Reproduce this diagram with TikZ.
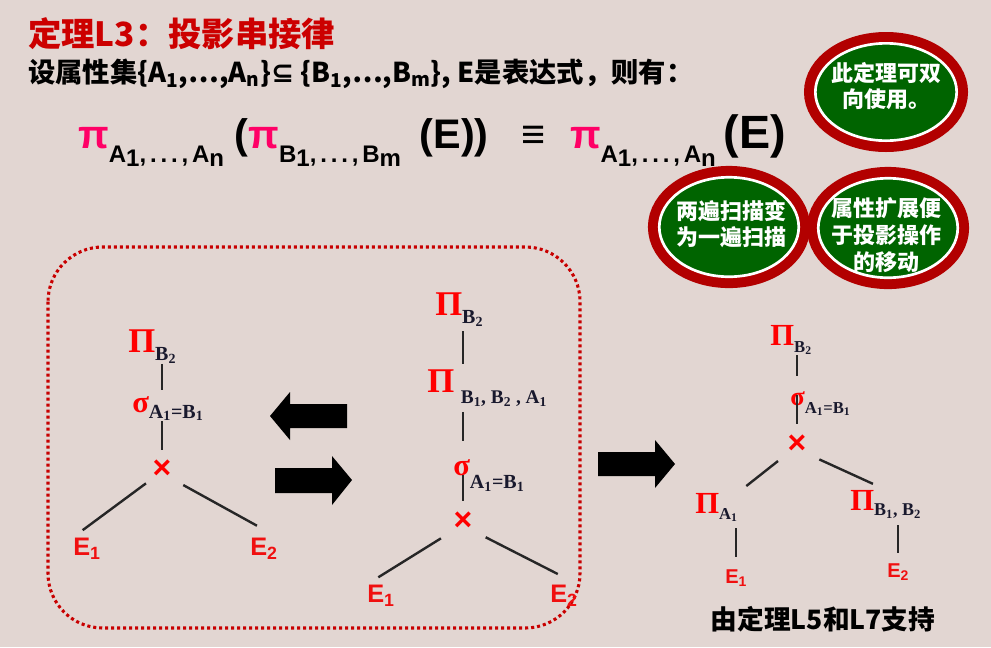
\documentclass[tikz,border=0pt]{standalone}
\usepackage{fontspec}
\setmainfont{Liberation Sans}
\newfontfamily\cjk{Noto Sans CJK SC}
\newfontfamily\serif{Liberation Serif}
\newfontfamily\sym{DejaVu Sans}

\definecolor{bgpaper}{RGB}{226,214,210}
\definecolor{titlered}{RGB}{204,0,0}
\definecolor{pipink}{RGB}{255,0,102}
\definecolor{opred}{RGB}{255,0,0}
\definecolor{ered}{RGB}{240,16,16}
\definecolor{subink}{RGB}{25,25,45}
\definecolor{ringred}{RGB}{178,0,0}
\definecolor{bubblegreen}{RGB}{0,100,0}
\definecolor{boxred}{RGB}{200,0,0}

% pieces of the law
\newcommand{\pisym}{{\color{pipink}\fontsize{30}{30}\selectfont π}}
\newcommand{\lawsub}[1]{\lower11pt\hbox{\fontsize{18}{18}\selectfont\addfontfeature{LetterSpace=16}#1}}
\newcommand{\dn}[1]{\lower3pt\hbox{#1}}
% pieces of the trees
\newcommand{\bigPi}[1][26]{{\color{opred}\serif\bfseries\fontsize{#1}{#1}\selectfont Π}}
\newcommand{\bigSigma}[1][23]{{\color{opred}\serif\bfseries\fontsize{#1}{#1}\selectfont σ}}
\newcommand{\opsub}[3]{\lower#1\hbox{\serif\bfseries\color{subink}\fontsize{#2}{#2}\selectfont #3}}

\begin{document}
\begin{tikzpicture}[x=0.75pt, y=-0.75pt,
  op/.style={anchor=base west, inner sep=0pt},
  prodop/.style={text=opred, inner sep=0pt, font=\bfseries\fontsize{24}{24}\selectfont},
  leaf/.style={anchor=base west, inner sep=0pt, text=ered, font=\bfseries\fontsize{19}{19}\selectfont},
  smallleaf/.style={leaf, font=\bfseries\fontsize{15}{15}\selectfont},
  branch/.style={line width=1.8pt, black!85},
  bubble/.style={preaction={draw=ringred, line width=17pt}, fill=bubblegreen, draw=white, line width=2pt},
  bubbletext/.style={text=white, align=center, inner sep=0pt, font=\cjk\bfseries\fontsize{16.5}{20}\selectfont},
  boxline/.style={draw=boxred, line width=2.3pt, dash pattern=on 2.3pt off 2.2pt, rounded corners=41pt}]
  \useasboundingbox (0,0) rectangle (991,647);
  \fill[bgpaper] (0,0) rectangle (991,647);

  % heading
  \node[anchor=west, inner sep=0pt, text=titlered, font=\cjk\bfseries\fontsize{25}{25}\selectfont] (title) at (28,34) {定理L3：投影串接律};
  \node[anchor=west, inner sep=0pt, font=\cjk\bfseries\fontsize{20.5}{20.5}\selectfont] (premise) at (28,74)
    {设属性集\{A\textsubscript{1},…,A\textsubscript{n}\}{\sym ⊆} \{B\textsubscript{1},…,B\textsubscript{m}\}, E是表达式，则有：};
  \node[anchor=base west, inner sep=0pt, font=\bfseries\fontsize{31}{31}\selectfont] (law) at (78,148)
    {\pisym\lawsub{A\dn{1},...,A\dn{n}}\hspace{8pt}(\pisym\lawsub{B\dn{1},...,B\dn{m}}\hspace{14pt}(E))\hspace{25pt}≡\hspace{18pt}\pisym\lawsub{A\dn{1},...,A\dn{n}}\hspace{6pt}{\fontsize{35}{35}\selectfont(E)}};

  % remarks
  \path[bubble] (886,92) ellipse [x radius=53pt, y radius=36.5pt];
  \node[bubbletext] (twoway) at (886,86) {此定理可双\\向使用。};
  \path[bubble] (729,227) ellipse [x radius=52.3pt, y radius=37.3pt];
  \node[bubbletext] (onescan) at (731,224) {两遍扫描变\\为一遍扫描};
  \path[bubble] (888,228) ellipse [x radius=52.3pt, y radius=37.3pt];
  \node[bubbletext] (widen) at (886,235) {属性扩展便\\于投影操作\\的移动};

  % equivalent pair
  \draw[boxline] (48,247) rectangle (580,628);

  \node[op] (lproj) at (128,352) {\bigPi\opsub{6.5pt}{15}{B\textsubscript{2}}};
  \node[op] (lsel) at (132,412) {\bigSigma\opsub{4.5pt}{15}{A\textsubscript{1}=B\textsubscript{1}}};
  \node[prodop] (lprod) at (162,469) {×};
  \node[leaf] (lE1) at (73,555) {E\textsubscript{1}};
  \node[leaf] (lE2) at (250,555) {E\textsubscript{2}};
  \draw[branch, shorten >=4.5pt] (lproj.south -| lprod) -- (lsel.north -| lprod);
  \draw[branch, shorten >=7pt] (lsel.south -| lprod) -- (lprod.north);
  \draw[branch, shorten <=6pt, shorten >=9pt] (lprod.south west) -- (lE1.north west);
  \draw[branch, shorten <=10pt, shorten >=18pt] (lprod.south east) -- (lE2.north east);

  \fill (270,416) -- (290,392) -- (290,404) -- (347,404) -- (347,428) -- (290,428) -- (290,440) -- cycle;
  \fill (352,480) -- (332,456) -- (332,468) -- (275,468) -- (275,493) -- (332,493) -- (332,505) -- cycle;

  \node[op] (mproj) at (435,315) {\bigPi\opsub{6.5pt}{15}{B\textsubscript{2}}};
  \node[op] (mproj2) at (427,392) {\bigPi\hspace{5pt}\opsub{8.5pt}{14.5}{B\textsubscript{1}, B\textsubscript{2} , A\textsubscript{1}}};
  \node[op] (msel) at (453,475) {\bigSigma\opsub{10pt}{15}{A\textsubscript{1}=B\textsubscript{1}}};
  \node[prodop] (mprod) at (463,521) {×};
  \node[leaf] (mE1) at (367,602) {E\textsubscript{1}};
  \node[leaf] (mE2) at (550,602) {E\textsubscript{2}};
  \draw[branch, shorten <=3.5pt, shorten >=3.5pt] (mproj.south -| mprod) -- (mproj2.north -| mprod);
  \draw[branch, shorten <=4pt, shorten >=13pt] (mproj2.south -| mprod) -- (msel.north -| mprod);
  \draw[branch, shorten >=7.5pt] (msel.center -| mprod) -- (mprod.north);
  \draw[branch, shorten <=11pt, shorten >=10pt] (mprod.south west) -- (mE1.north west);
  \draw[branch, shorten <=11pt, shorten >=17pt] (mprod.south east) -- (mE2.north east);

  % pushed-down form
  \fill (675,464) -- (655,440) -- (655,452) -- (598,452) -- (598,476) -- (655,476) -- (655,488) -- cycle;

  \node[op] (rproj) at (770,345) {\bigPi[23]\opsub{5.5pt}{12.5}{B\textsubscript{2}}};
  \node[op] (rsel) at (790,405) {\bigSigma[20]\opsub{6pt}{12.5}{A\textsubscript{1}=B\textsubscript{1}}};
  \node[prodop] (rprod) at (797,444) {×};
  \node[op] (rprojA) at (695,513) {\bigPi[23]\opsub{4.5pt}{12.5}{A\textsubscript{1}}};
  \node[op] (rprojB) at (850,510) {\bigPi[23]\opsub{4pt}{13.5}{B\textsubscript{1}, B\textsubscript{2}}};
  \node[smallleaf] (rE1) at (725,583) {E\textsubscript{1}};
  \node[smallleaf] (rE2) at (887,577) {E\textsubscript{2}};
  \draw[branch, shorten >=11pt] (rproj.south -| rprod) -- (rsel.north -| rprod);
  \draw[branch, shorten <=3pt, shorten >=7.5pt] (rsel.north -| rprod) -- (rprod.north);
  \draw[branch, shorten <=9pt, shorten >=8pt] (rprod.south west) -- (rprojA.north east);
  \draw[branch, shorten <=10.5pt, shorten >=10.5pt] (rprod.south east) -- (rprojB.north);
  \draw[branch, shorten <=5pt, shorten >=9pt] (rprojA.south -| rE1) -- (rE1.north);
  \draw[branch, shorten <=5pt, shorten >=7.5pt] (rprojB.south -| rE2) -- (rE2.north);

  \node[inner sep=0pt, font=\cjk\bfseries\fontsize{20}{20}\selectfont] (support) at (823,619) {由定理L5和L7支持};
\end{tikzpicture}
\end{document}
